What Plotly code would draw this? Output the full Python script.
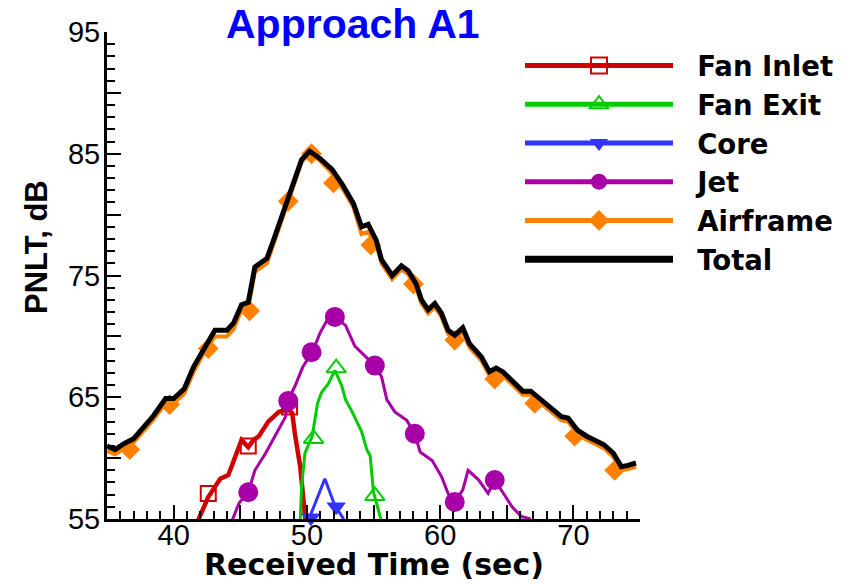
import plotly.graph_objects as go

# ---------------- data ----------------
total_t = [35.0, 35.6, 36.3, 37.0, 37.8, 38.5, 39.4, 40.0, 40.8, 41.5,
           42.3, 43.1, 44.0, 44.5, 45.1, 45.6, 46.1, 47.0, 47.5, 48.1,
           49.1, 49.6, 50.2, 51.0, 51.9, 52.7, 53.5, 54.1, 54.6, 55.2,
           55.6, 56.4, 57.1, 57.6, 58.2, 58.6, 59.1, 59.6, 60.1, 60.6,
           61.1, 61.7, 62.2, 63.1, 63.7, 64.2, 64.7, 65.6, 66.2, 66.8,
           67.6, 68.3, 69.1, 69.6, 70.3, 71.0, 71.7, 72.3, 73.0, 73.6,
           74.1, 74.7]
total_v = [61.0, 60.7, 61.2, 61.6, 62.6, 63.5, 64.9, 64.9, 65.7, 67.5,
           69.0, 70.5, 70.5, 71.1, 72.6, 72.8, 75.7, 76.4, 77.9, 79.8,
           82.8, 84.5, 85.2, 84.6, 83.7, 82.4, 80.9, 79.0, 79.2, 77.9,
           76.3, 75.0, 75.8, 75.4, 74.3, 73.0, 72.2, 72.7, 71.9, 70.5,
           70.1, 70.7, 69.4, 68.3, 67.1, 67.4, 67.1, 66.2, 65.5, 65.5,
           64.8, 64.1, 63.4, 63.3, 62.3, 61.8, 61.4, 61.1, 60.4, 59.3,
           59.4, 59.6]

airframe_t = total_t
airframe_v = [60.6, 60.3, 60.8, 61.3, 62.3, 63.2, 64.5, 64.5, 65.3, 67.1,
              68.7, 70.0, 70.0, 70.6, 72.2, 72.4, 75.3, 76.0, 77.6, 79.5,
              82.6, 84.3, 85.1, 84.4, 83.4, 82.1, 80.6, 78.4, 78.6, 77.6,
              76.0, 74.7, 75.5, 75.1, 74.0, 72.7, 71.9, 72.4, 71.6, 70.2,
              69.8, 70.4, 69.1, 68.0, 66.8, 67.0, 66.8, 65.9, 65.2, 65.2,
              64.5, 63.8, 63.1, 63.0, 62.0, 61.5, 61.1, 60.8, 60.1, 59.0,
              59.1, 59.3]
airframe_mk_t = [36.7, 39.7, 42.6, 45.7, 48.6, 50.35, 52.0, 54.8, 58.0, 61.1, 64.1, 67.1, 70.1, 73.1]
airframe_mk_v = [60.7, 64.4, 69.0, 72.1, 81.1, 85.0, 82.6, 77.5, 74.3, 69.7, 66.5, 64.5, 61.8, 59.0]

fan_inlet_t = [41.8, 42.6, 43.5, 44.1, 45.1, 45.6, 46.0, 46.4, 47.1, 47.9, 48.6, 48.9, 49.1, 49.5, 49.75, 49.9]
fan_inlet_v = [54.8, 56.8, 58.3, 58.6, 61.5, 60.9, 61.5, 61.8, 63.0, 63.8, 64.0, 63.7, 62.0, 59.3, 56.5, 54.8]
fan_inlet_mk_t = [42.6, 45.6, 48.7]
fan_inlet_mk_v = [57.1, 61.0, 64.2]

fan_exit_t = [49.5, 49.6, 49.85, 50.4, 50.8, 51.1, 51.6, 52.1, 52.6, 52.9, 53.4, 54.1, 54.5, 54.75, 55.0, 55.3, 55.6]
fan_exit_v = [54.8, 57.6, 60.4, 61.8, 64.5, 65.4, 66.1, 67.2, 66.0, 64.8, 63.8, 62.2, 60.7, 60.2, 57.2, 56.0, 54.8]
fan_exit_mk_t = [50.5, 52.2, 55.1]
fan_exit_mk_v = [61.6, 67.4, 56.9]

core_t = [49.9, 50.3, 51.35, 52.1, 52.7, 52.8]
core_v = [54.8, 55.4, 58.3, 56.1, 55.1, 54.8]
core_mk_t = [50.3, 52.2]
core_mk_v = [55.1, 56.0]

jet_t = [44.4, 44.9, 45.6, 46.1, 46.9, 47.6, 48.4, 48.6, 49.1, 49.7,
         50.4, 51.0, 51.5, 52.1, 52.9, 53.6, 54.4, 55.1, 55.6, 56.0,
         56.6, 57.5, 58.1, 58.5, 59.4, 60.1, 60.6, 61.1, 61.7, 62.1,
         62.9, 63.6, 64.1, 65.0, 65.4, 66.1, 66.8]
jet_v = [54.9, 56.3, 57.2, 59.0, 60.4, 61.8, 63.4, 64.8, 65.9, 67.5,
         68.7, 70.3, 71.3, 71.6, 70.9, 69.2, 68.3, 67.6, 66.7, 64.8,
         63.8, 63.1, 62.0, 60.5, 59.8, 58.5, 57.1, 56.4, 57.4, 59.0,
         58.2, 57.1, 58.2, 56.6, 56.0, 55.2, 55.0]
jet_mk_t = [45.6, 48.6, 50.35, 52.1, 55.1, 58.1, 61.1, 64.1]
jet_mk_v = [57.2, 64.7, 68.7, 71.6, 67.6, 62.0, 56.4, 58.2]

x_tickvals = [35, 40, 45, 50, 55, 60, 65, 70, 75]
x_ticktext = ["", "40", "", "50", "", "60", "", "70", ""]
y_tickvals = [55, 60, 65, 70, 75, 80, 85, 90, 95]
y_ticktext = ["55", "", "65", "", "75", "", "85", "", "95"]

# ---------------- layout geometry ----------------
FONT = "Liberation Sans, Arial, sans-serif"
WIDE = "DejaVu Sans, Liberation Sans, sans-serif"
OFF = 8                     # default page body margin
W, H = 849 - OFF, 584 - OFF
L, R, T, B = 107 - OFF, 209, 32 - OFF, 65
PW, PH = W - L - R, H - T - B


def px(sx):
    return (sx - OFF - L) / PW


def py(sy):
    return 1 - (sy - OFF - T) / PH


series = [
    dict(name="Fan Inlet", t=fan_inlet_t, v=fan_inlet_v, mt=fan_inlet_mk_t, mv=fan_inlet_mk_v,
         color="#d00000", lw=4.5, symbol="square-open", ms=15, mlw=2),
    dict(name="Fan Exit", t=fan_exit_t, v=fan_exit_v, mt=fan_exit_mk_t, mv=fan_exit_mk_v,
         color="#00cc00", lw=3, symbol="triangle-up-open", ms=17, mlw=2),
    dict(name="Core", t=core_t, v=core_v, mt=core_mk_t, mv=core_mk_v,
         color="#3333ff", lw=3, symbol="triangle-down", ms=17, mlw=0),
    dict(name="Jet", t=jet_t, v=jet_v, mt=jet_mk_t, mv=jet_mk_v,
         color="#a600a6", lw=3, symbol="circle", ms=20, mlw=0),
    dict(name="Airframe", t=airframe_t, v=airframe_v, mt=airframe_mk_t, mv=airframe_mk_v,
         color="#ff8000", lw=4, symbol="diamond", ms=16, mlw=0),
]

fig = go.Figure()
for s in series:
    fig.add_trace(go.Scatter(x=s["t"], y=s["v"], mode="lines", showlegend=False,
                             line=dict(color=s["color"], width=s["lw"]), hoverinfo="skip"))
    fig.add_trace(go.Scatter(x=s["mt"], y=s["mv"], mode="markers", showlegend=False, cliponaxis=False,
                             marker=dict(symbol=s["symbol"], size=s["ms"], color=s["color"],
                                         line=dict(color=s["color"], width=s["mlw"]))))
fig.add_trace(go.Scatter(x=total_t, y=total_v, mode="lines", showlegend=False,
                         line=dict(color="black", width=5)))

# legend entries
for s in series:
    fig.add_trace(go.Scatter(x=[None], y=[None], mode="lines+markers",
                             name="\u00a0\u00a0" + s["name"],
                             line=dict(color=s["color"], width=5),
                             marker=dict(symbol=s["symbol"], size=16, color=s["color"],
                                         line=dict(color=s["color"], width=s["mlw"]))))
fig.add_trace(go.Scatter(x=[None], y=[None], mode="lines", name="\u00a0\u00a0Total",
                         line=dict(color="black", width=7)))

fig.update_layout(
    template="none",
    width=W, height=H,
    margin=dict(l=L, r=R, t=T, b=B, autoexpand=False),
    plot_bgcolor="white", paper_bgcolor="white",
    font=dict(family=FONT, color="black"),
    showlegend=True,
    legend=dict(x=px(520), y=py(41), xanchor="left", yanchor="top", xref="paper", yref="paper",
                bgcolor="rgba(0,0,0,0)", borderwidth=0, itemwidth=148,
                font=dict(family=WIDE, size=27.5, color="black", weight="bold"),
                tracegroupgap=0),
    xaxis=dict(range=[35, 75], automargin=False, showgrid=False, zeroline=False, showline=True,
               linecolor="black", linewidth=3, ticks="inside", ticklen=14, tickwidth=2, tickcolor="black",
               tickmode="array", tickvals=x_tickvals, ticktext=x_ticktext, ticklabelstandoff=-12,
               tickfont=dict(family=FONT, size=29, color="black"),
               minor=dict(ticks="inside", dtick=1, tick0=35, ticklen=8, tickwidth=1.5, tickcolor="black")),
    yaxis=dict(range=[55, 95], automargin=False, showgrid=False, zeroline=False, showline=True,
               linecolor="black", linewidth=3, ticks="inside", ticklen=14, tickwidth=2, tickcolor="black",
               tickmode="array", tickvals=y_tickvals, ticktext=y_ticktext, ticklabelstandoff=-2,
               tickfont=dict(family=FONT, size=29, color="black"),
               minor=dict(ticks="inside", dtick=1, tick0=55, ticklen=8, tickwidth=1.5, tickcolor="black")),
)
fig.add_annotation(text="Approach A1", xref="paper", yref="paper",
                   x=px(353), y=py(24), xanchor="center", yanchor="middle",
                   showarrow=False, font=dict(family=FONT, size=41, color="#0000ff", weight="bold"))
fig.add_annotation(text="PNLT, dB", xref="paper", yref="paper", textangle=-90,
                   x=px(37), y=py(247), xanchor="center", yanchor="middle",
                   showarrow=False, font=dict(family=FONT, size=31, color="black", weight="bold"))
fig.add_annotation(text="Received Time (sec)", xref="paper", yref="paper",
                   x=px(374), y=py(564), xanchor="center", yanchor="middle",
                   showarrow=False, font=dict(family=WIDE, size=30, color="black", weight="bold"))

fig.write_html("out.html")
